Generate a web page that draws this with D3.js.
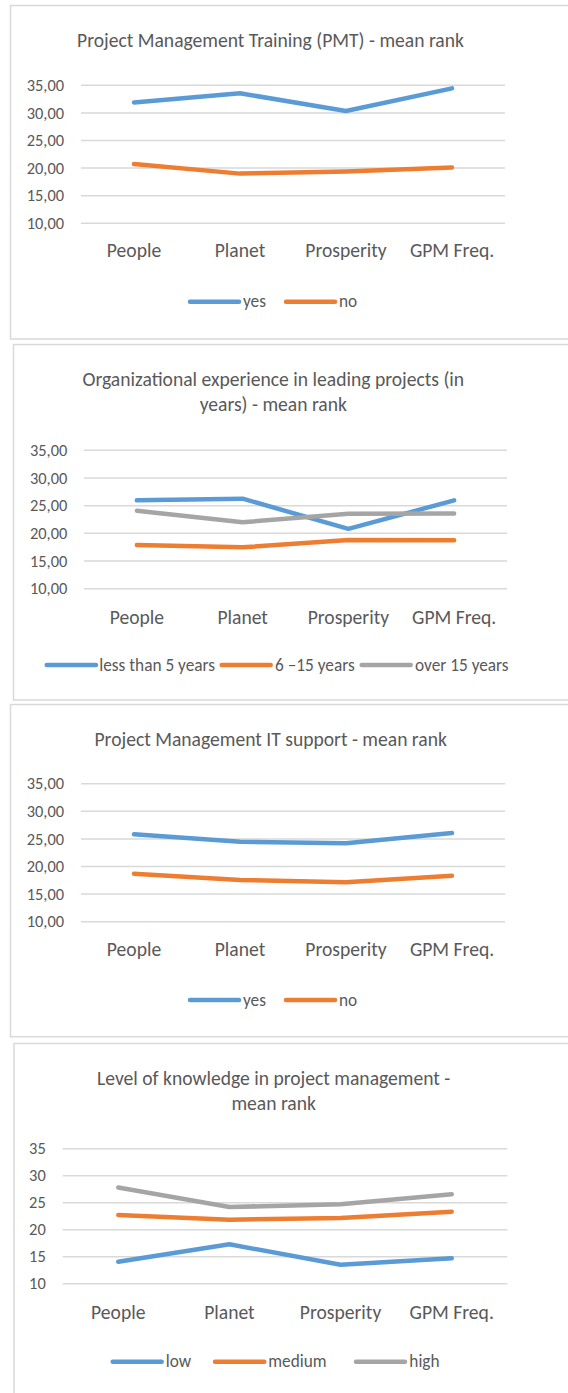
<!DOCTYPE html>
<html lang="en">
<head>
  <meta charset="UTF-8">
  <title>Mean rank charts</title>
  <style>
    body { margin: 0; background: #fff; }
    svg { display: block; font-family: Carlito, Lato, "Open Sans", sans-serif; }
    .box { fill: none; stroke: #d9d9d9; stroke-width: 1.5; }
    .grid line { stroke: #d9d9d9; stroke-width: 1.5; }
    .txt { fill: #595959; }
  </style>
</head>
<body>
  <div id="chart"></div>
  <script src="https://d3js.org/d3.v7.min.js"></script>
  <script>
    // categories + ticks
    const categories = ["People", "Planet", "Prosperity", "GPM Freq."];
    const yTicks = [10, 15, 20, 25, 30, 35];

    // Project Management Training
    const pmtYes = [31.9, 33.55, 30.35, 34.45];
    const pmtNo = [20.74, 19.0, 19.4, 20.1];

    // Organizational experience
    const expLess5 = [25.96, 26.26, 20.8, 25.96];
    const exp6to15 = [17.9, 17.47, 18.8, 18.75];
    const expOver15 = [24.1, 22.0, 23.55, 23.6];

    // IT support
    const itYes = [25.83, 24.5, 24.2, 26.07];
    const itNo = [18.7, 17.55, 17.14, 18.33];

    // Level of knowledge
    const knowLow = [14.07, 17.3, 13.5, 14.7];
    const knowMedium = [22.72, 21.85, 22.17, 23.33];
    const knowHigh = [27.8, 24.2, 24.7, 26.56];

    const blue = "#5b9bd5", orange = "#ed7d31", gray = "#a5a5a5";

    const fmtComma = d => d3.format(".2f")(d).replace(".", ",");
    const fmtInt = d => d3.format("d")(d);

    const panels = [
      {
        box: [10.5, 5.5, 580, 339],
        title: ["Project Management Training (PMT) - mean rank"], titleY: [39.5], titleX: 270.5,
        x0: 81, x1: 505, yTop: 85.3, yBot: 223.3, tickRight: 64, fmt: fmtComma,
        catY: 250, legY: 301.7,
        series: [
          { name: "yes", values: pmtYes, color: blue, leg: [190, 239, 243] },
          { name: "no", values: pmtNo, color: orange, leg: [286, 335, 339] }
        ]
      },
      {
        box: [13.5, 344.5, 580, 700],
        title: ["Organizational experience in leading projects (in", "years) - mean rank"], titleY: [379, 404.3], titleX: 273.3,
        x0: 84, x1: 507, yTop: 450.3, yBot: 588.7, tickRight: 67.3, fmt: fmtComma,
        catY: 616.7, legY: 665,
        series: [
          { name: "less than 5 years", values: expLess5, color: blue, leg: [46.7, 96, 99.3] },
          { name: "6 \u201315 years", values: exp6to15, color: orange, leg: [221.7, 270.7, 275] },
          { name: "over 15 years", values: expOver15, color: gray, leg: [361.7, 410.7, 415] }
        ]
      },
      {
        box: [10.5, 704.5, 580, 1036.7],
        title: ["Project Management IT support - mean rank"], titleY: [739], titleX: 270.7,
        x0: 81, x1: 505, yTop: 783.7, yBot: 921.7, tickRight: 64, fmt: fmtComma,
        catY: 949.3, legY: 1000,
        series: [
          { name: "yes", values: itYes, color: blue, leg: [190, 239, 243] },
          { name: "no", values: itNo, color: orange, leg: [286, 335, 339] }
        ]
      },
      {
        box: [14, 1043.5, 580, 1420],
        title: ["Level of knowledge in project management -", "mean rank"], titleY: [1077.7, 1103.3], titleX: 273.7,
        x0: 62.7, x1: 507.3, yTop: 1148.7, yBot: 1283.7, tickRight: 45.7, fmt: fmtInt,
        catY: 1311.7, legY: 1361.7,
        series: [
          { name: "low", values: knowLow, color: blue, leg: [112.7, 161.7, 165.7] },
          { name: "medium", values: knowMedium, color: orange, leg: [215, 264.3, 268.3] },
          { name: "high", values: knowHigh, color: gray, leg: [356, 405, 409.3] }
        ]
      }
    ];

    const svg = d3.select("#chart").append("svg")
      .attr("width", 568)
      .attr("height", 1393);

    panels.forEach(p => {
      const g = svg.append("g");

      g.append("rect").attr("class", "box")
        .attr("x", p.box[0]).attr("y", p.box[1])
        .attr("width", p.box[2] - p.box[0]).attr("height", p.box[3] - p.box[1]);

      // title
      p.title.forEach((t, i) => {
        g.append("text").attr("class", "txt")
          .attr("x", p.titleX).attr("y", p.titleY[i])
          .attr("text-anchor", "middle").attr("dominant-baseline", "central")
          .style("font-size", "19.6px")
          .text(t);
      });

      const x = d3.scaleBand().domain(categories).range([p.x0, p.x1]);
      const y = d3.scaleLinear().domain([10, 35]).range([p.yBot, p.yTop]);

      // gridlines
      g.append("g").attr("class", "grid")
        .selectAll("line").data(yTicks).enter().append("line")
        .attr("x1", p.x0).attr("x2", p.x1)
        .attr("y1", d => y(d)).attr("y2", d => y(d));

      // y axis labels
      const yAxis = d3.axisLeft(y).tickValues(yTicks).tickFormat(p.fmt).tickSize(0).tickPadding(0);
      const ya = g.append("g").attr("transform", `translate(${p.tickRight},0)`).call(yAxis);
      ya.select(".domain").remove();
      ya.selectAll("text").attr("class", "txt").attr("fill", null)
        .style("font-size", "16.4px");
      ya.attr("font-family", null).attr("font-size", null);

      // x axis labels
      const xAxis = d3.axisBottom(x).tickSize(0).tickPadding(0);
      const xa = g.append("g").attr("transform", `translate(0,${p.catY})`).call(xAxis);
      xa.select(".domain").remove();
      xa.selectAll("text").attr("class", "txt").attr("fill", null)
        .attr("dy", null).attr("y", 0).attr("dominant-baseline", "central")
        .style("font-size", "19.6px");
      xa.attr("font-family", null).attr("font-size", null);

      // lines
      const line = d3.line()
        .x((d, i) => x(categories[i]) + x.bandwidth() / 2)
        .y(d => y(d));

      g.selectAll("path.series").data(p.series).enter().append("path")
        .attr("class", "series")
        .attr("d", s => line(s.values))
        .attr("fill", "none")
        .attr("stroke", s => s.color)
        .attr("stroke-width", 4.5)
        .attr("stroke-linecap", "round")
        .attr("stroke-linejoin", "round");

      // legend
      const leg = g.selectAll("g.leg").data(p.series).enter().append("g").attr("class", "leg");
      leg.append("line")
        .attr("x1", s => s.leg[0]).attr("x2", s => s.leg[1])
        .attr("y1", p.legY).attr("y2", p.legY)
        .attr("stroke", s => s.color).attr("stroke-width", 4.5)
        .attr("stroke-linecap", "round");
      leg.append("text").attr("class", "txt")
        .attr("x", s => s.leg[2]).attr("y", p.legY)
        .attr("dominant-baseline", "central")
        .style("font-size", "17.3px")
        .text(s => s.name);
    });
  </script>
</body>
</html>
